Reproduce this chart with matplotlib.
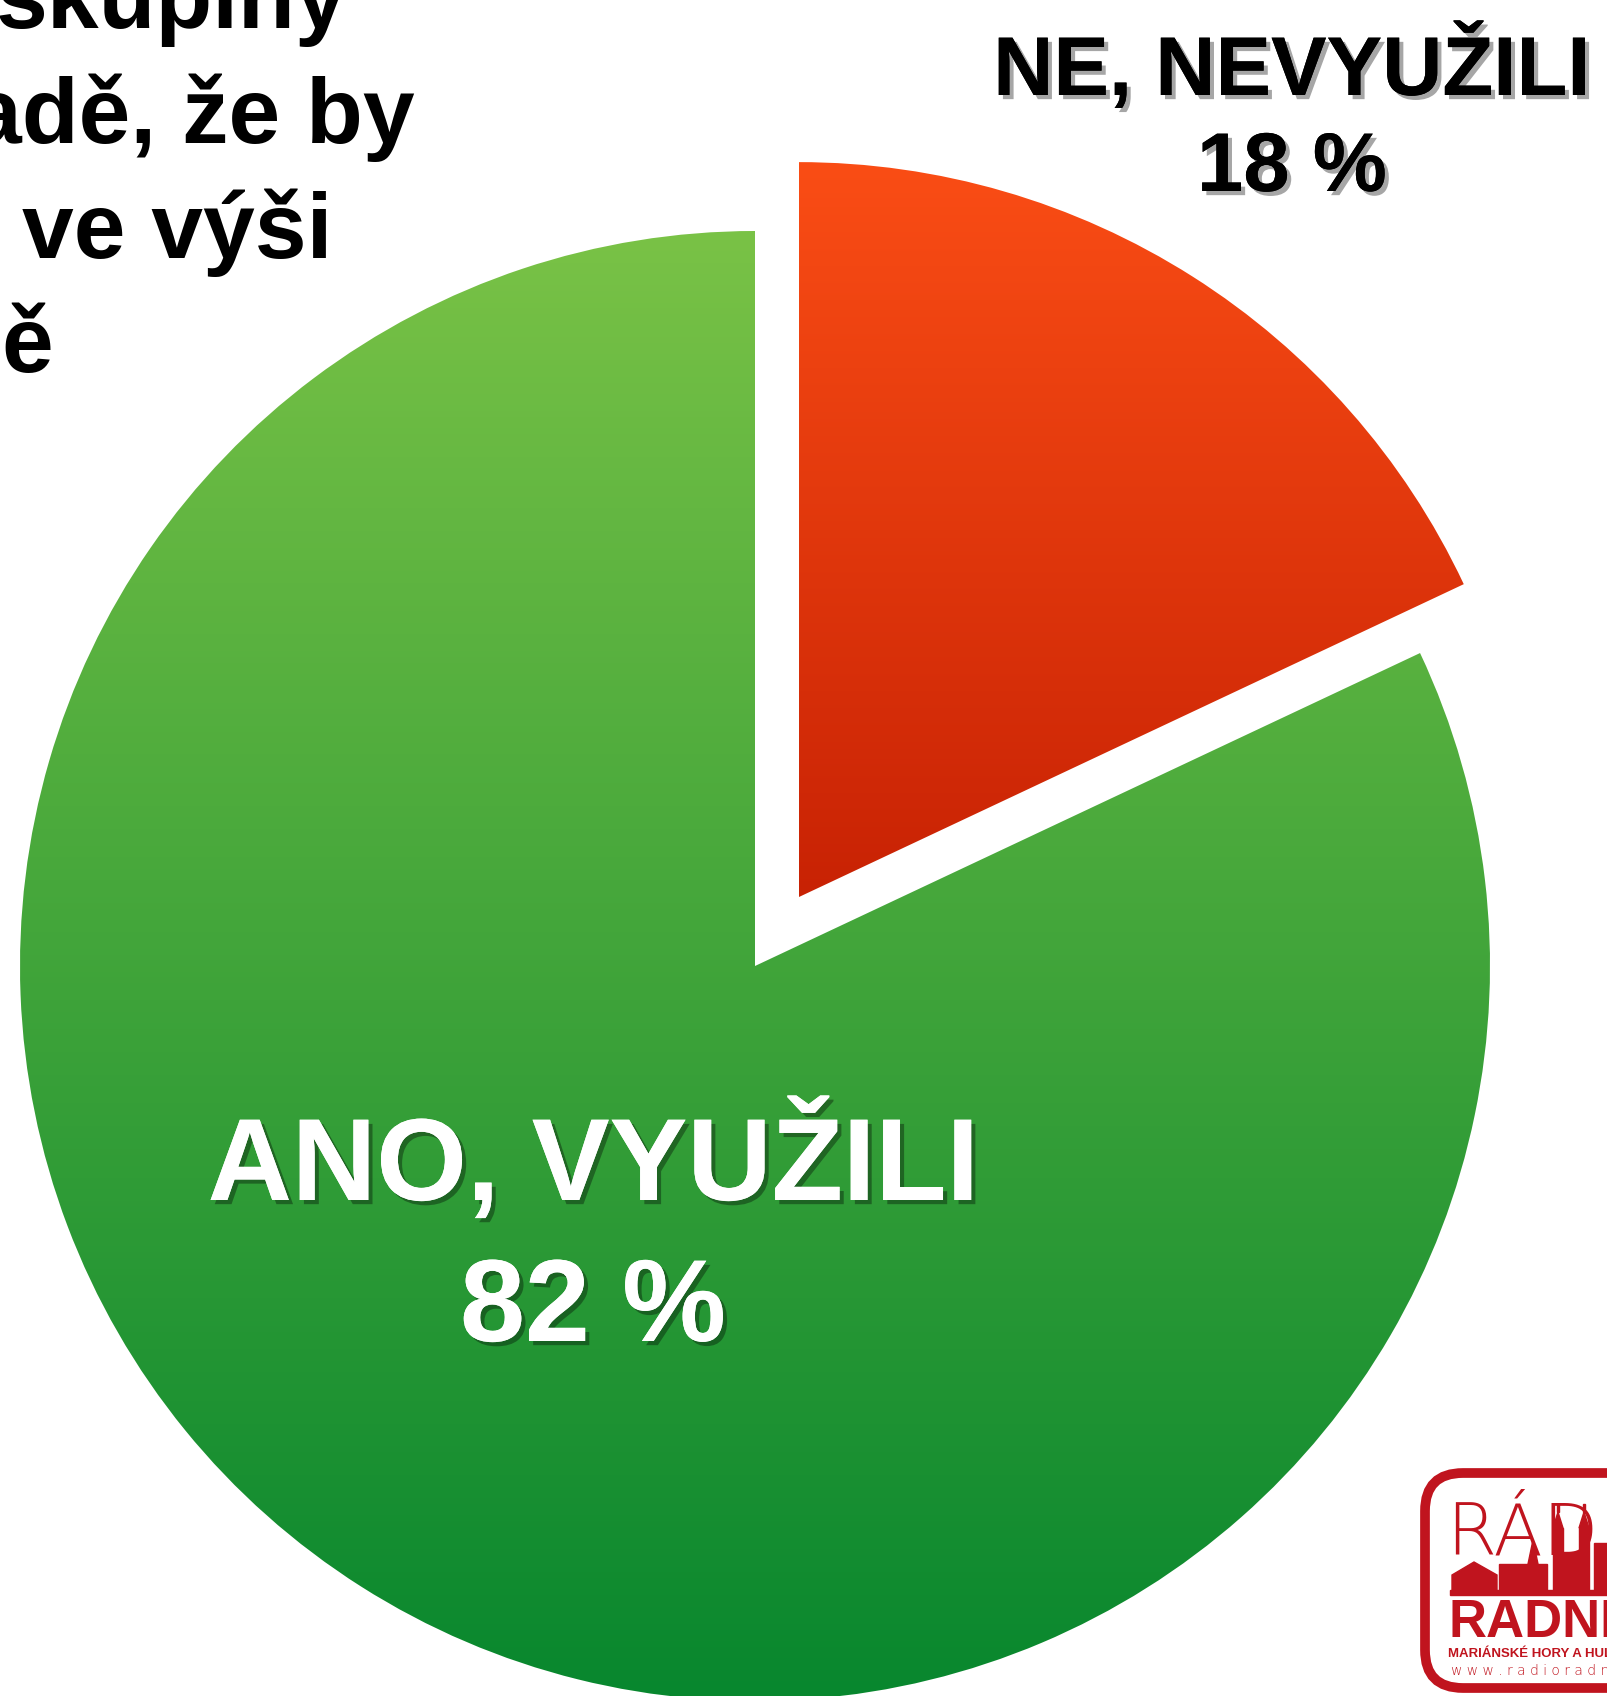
import numpy as np
import matplotlib
matplotlib.use("Agg")
import matplotlib.pyplot as plt
from matplotlib import patheffects
from matplotlib.colors import LinearSegmentedColormap
from matplotlib.patches import FancyBboxPatch, Rectangle, Polygon

# Data
labels = ["NE, NEVYUŽILI", "ANO, VYUŽILI"]
shares = [18, 82]
explode = [0.111, 0.0]   # fraction of radius
top_colors = ["#FA4D15", "#79C246"]
bottom_colors = ["#C82204", "#08872E"]
label_colors = ["black", "white"]

title_lines = ["skupiny", "adě, že by", "ve výši", "ě"]

W, H = 1607, 1696
FONT = "Liberation Sans"
LOGO_RED = "#C0141E"

fig = plt.figure(figsize=(W / 100, H / 100), dpi=100)
ax = fig.add_axes([0, 0, 1, 1])

# pie in pixel coordinates (y up)
CX, CY, R = 755, H - 966, 735
# pie's explode is in data units, so scale by the radius
wedges, _ = ax.pie(shares, explode=[e * R for e in explode], startangle=90, counterclock=False,
                   center=(CX, CY), radius=R,
                   wedgeprops=dict(linewidth=0, alpha=0))

# vertical gradient fill clipped to each wedge
for w, c_top, c_bot in zip(wedges, top_colors, bottom_colors):
    ext = w.get_path().get_extents()
    cmap = LinearSegmentedColormap.from_list("g", [c_bot, c_top])
    grad = np.linspace(0, 1, 256).reshape(-1, 1)
    im = ax.imshow(grad, cmap=cmap, extent=[ext.x0, ext.x1, ext.y0, ext.y1], origin="lower",
                   aspect="auto", zorder=1, interpolation="bilinear")
    im.set_clip_path(w)

shadow = [patheffects.withSimplePatchShadow(offset=(3, -3), shadow_rgbFace="black", alpha=0.35),
          patheffects.Normal()]

# labels
ax.text(1292, H - 95, labels[0], ha="center", va="baseline", fontsize=60,
        fontweight="bold", family=FONT, color=label_colors[0], path_effects=shadow, zorder=5)
ax.text(1292, H - 191, f"{shares[0]} %", ha="center", va="baseline", fontsize=60,
        fontweight="bold", family=FONT, color=label_colors[0], path_effects=shadow, zorder=5)
ax.text(593, H - 1200, labels[1], ha="center", va="baseline", fontsize=84,
        fontweight="bold", family=FONT, color=label_colors[1], path_effects=shadow, zorder=5)
ax.text(593, H - 1341, f"{shares[1]} %", ha="center", va="baseline", fontsize=84,
        fontweight="bold", family=FONT, color=label_colors[1], path_effects=shadow, zorder=5)

# title (cut off by the frame, as in the original crop)
title_ends = [347, 415, 332, 53]
title_base = [28, 143, 258, 372]
for line, xe, yb in zip(title_lines, title_ends, title_base):
    ax.text(xe, H - yb, line, ha="right", va="baseline", fontsize=67,
            fontweight="bold", family=FONT, color="black", zorder=5)

# logo in the corner
ax.add_patch(FancyBboxPatch((1425, 8), 260, 215, boxstyle="round,pad=0,rounding_size=38",
                            facecolor="white", edgecolor=LOGO_RED, linewidth=7, zorder=6))
ax.text(1446, H - 1555, "RÁDIO", ha="left", va="baseline", fontsize=52, family="DejaVu Sans",
        fontweight="ultralight", color=LOGO_RED, zorder=7)
# skyline
ax.add_patch(Rectangle((1450, H - 1595), 160, 5, color=LOGO_RED, zorder=7))
ax.add_patch(Polygon([(1452, H - 1575), (1474, H - 1562), (1497, H - 1575), (1497, H - 1590),
                      (1452, H - 1590)], color=LOGO_RED, zorder=7))
ax.add_patch(Rectangle((1499, H - 1590), 48, 26, color=LOGO_RED, zorder=7))
ax.add_patch(Polygon([(1528, H - 1564), (1533, H - 1540), (1538, H - 1564)], color=LOGO_RED, zorder=7))
for tx in (1558, 1584):
    ax.add_patch(Rectangle((tx - 5, H - 1590), 10, 62, color=LOGO_RED, zorder=7))
    ax.add_patch(Polygon([(tx - 5, H - 1528), (tx, H - 1512), (tx + 5, H - 1528)], color=LOGO_RED, zorder=7))
    ax.add_patch(Rectangle((tx - 1, H - 1512), 2, 8, color=LOGO_RED, zorder=7))
ax.add_patch(Rectangle((1563, H - 1590), 16, 38, color=LOGO_RED, zorder=7))
ax.add_patch(Rectangle((1594, H - 1590), 20, 47, color=LOGO_RED, zorder=7))
ax.text(1449, H - 1638, "RADNICE", ha="left", va="baseline", fontsize=38, fontweight="heavy",
        family=FONT, color=LOGO_RED, zorder=7)
ax.text(1448, H - 1657, "MARIÁNSKÉ HORY A HULVÁKY", ha="left", va="baseline", fontsize=9.5,
        fontweight="bold", family=FONT, color=LOGO_RED, zorder=7)
ax.text(1451, H - 1675, "w w w . r a d i o r a d n i c e . c z", ha="left", va="baseline",
        fontsize=10, family="DejaVu Sans", fontweight="light", color=LOGO_RED, zorder=7)

ax.set_xlim(0, W)
ax.set_ylim(0, H)
ax.axis("off")

fig.savefig("out.png", dpi=100, facecolor="white")
